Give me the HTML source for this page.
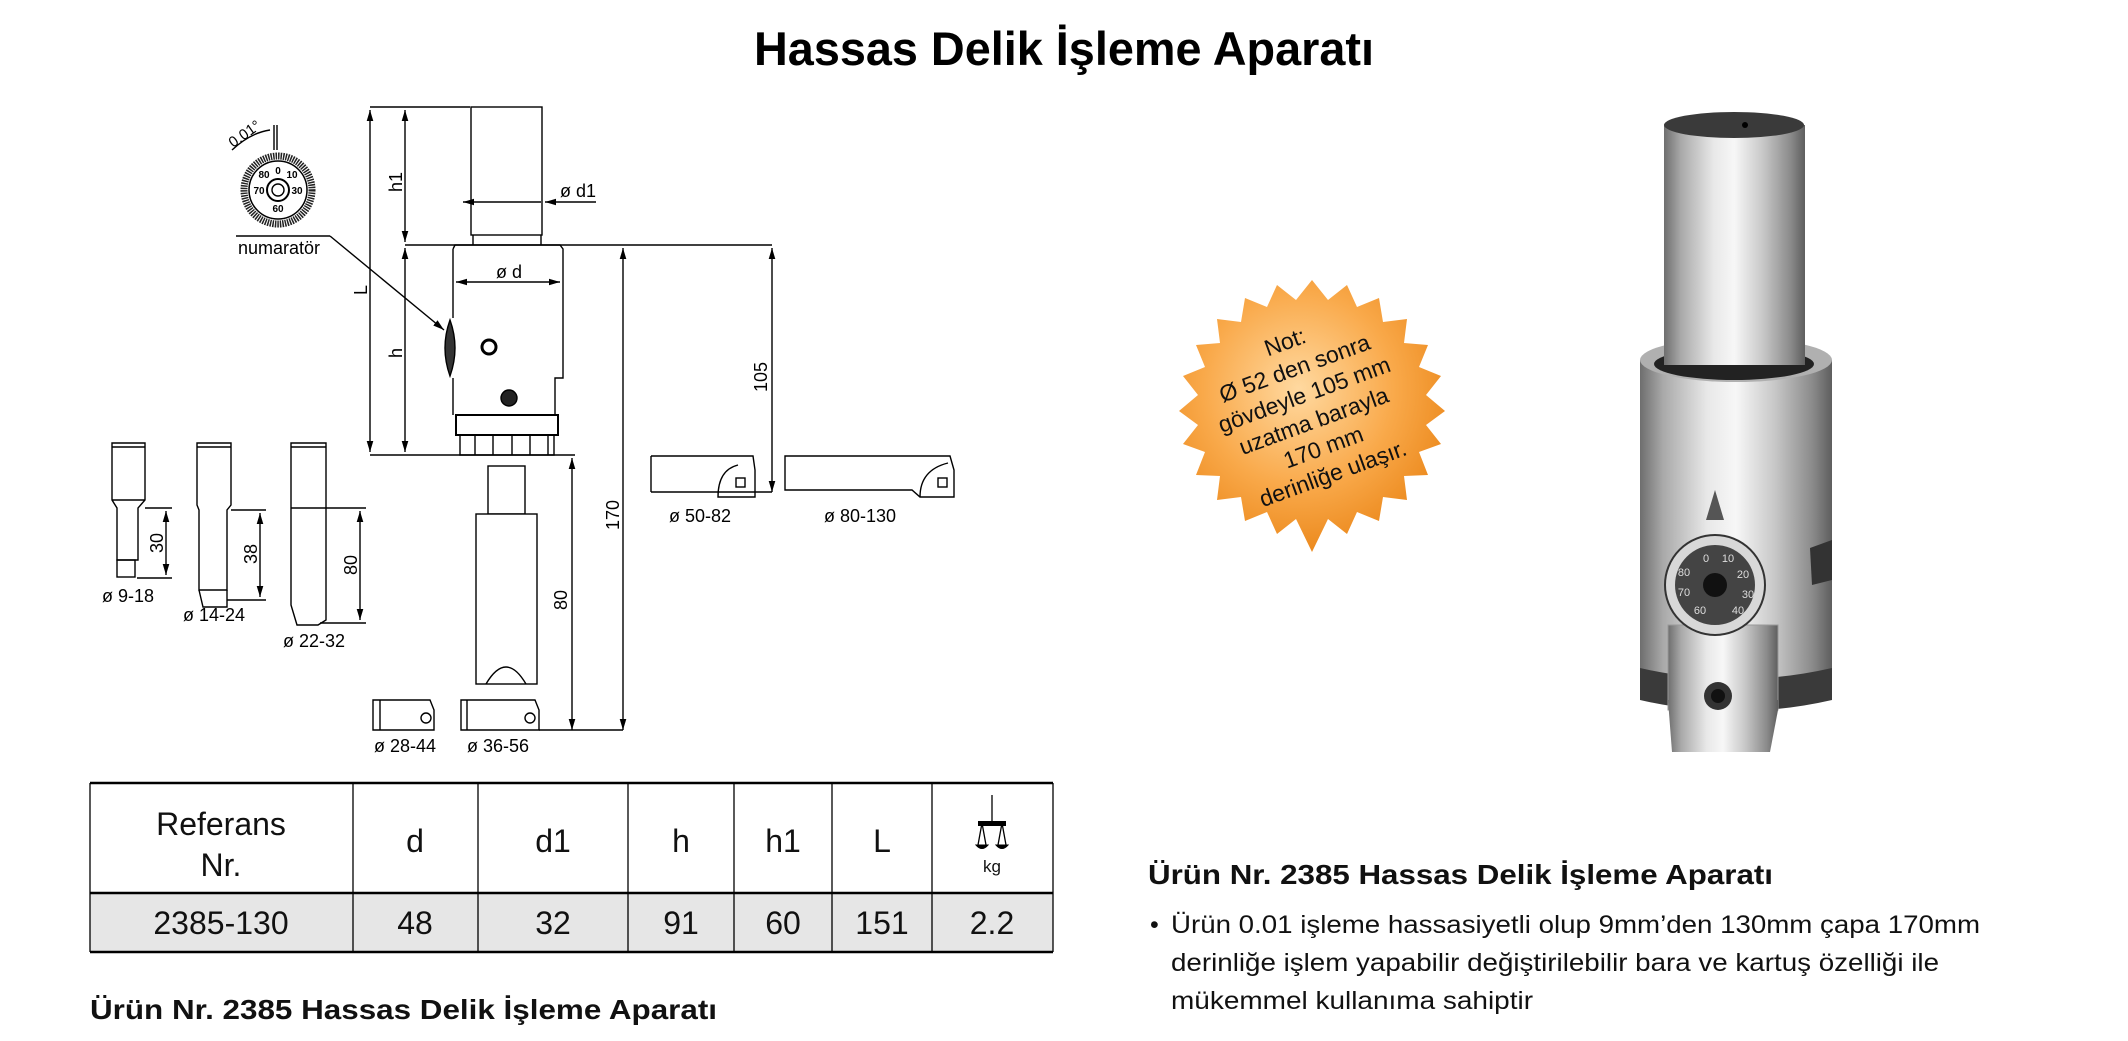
<!DOCTYPE html>
<html><head><meta charset="utf-8"><style>
html,body{margin:0;padding:0;background:#fff;}
svg{display:block;}
text{font-family:"Liberation Sans",sans-serif;}
</style></head><body>
<svg width="2128" height="1041" viewBox="0 0 2128 1041" xmlns="http://www.w3.org/2000/svg">
<defs>
<linearGradient id="cyl" x1="0" x2="1" y1="0" y2="0">
<stop offset="0" stop-color="#6e6e6e"/><stop offset="0.12" stop-color="#a9a9a9"/><stop offset="0.35" stop-color="#e8e8e8"/><stop offset="0.5" stop-color="#f7f7f7"/><stop offset="0.7" stop-color="#c8c8c8"/><stop offset="0.9" stop-color="#8a8a8a"/><stop offset="1" stop-color="#5e5e5e"/>
</linearGradient>
<radialGradient id="star" cx="0.45" cy="0.4" r="0.6">
<stop offset="0" stop-color="#ffd9a0"/><stop offset="0.6" stop-color="#f9a94a"/><stop offset="1" stop-color="#ec8a1e"/>
</radialGradient>
<marker id="ar" viewBox="0 0 10 10" refX="10" refY="5" markerWidth="8" markerHeight="8" orient="auto-start-reverse"><path d="M0,2 L10,5 L0,8 z" fill="#000"/></marker>
</defs>

<text x="754" y="65" font-size="47" font-weight="bold" textLength="620" lengthAdjust="spacingAndGlyphs">Hassas Delik İşleme Aparatı</text>

<g stroke="#000" stroke-width="1.4" fill="none">
<rect x="471" y="107" width="71" height="128" fill="#fff"/>
<path d="M473,235 V245 M541,235 V245"/>
<path d="M453,249 L455,245 L560,245 L563,249 L563,378 L555,378 L555,415 M453,249 L453,318 M453,378 L453,415" fill="#fff"/>
<path d="M450,320 Q440,348 450,376 Q460,348 450,320 z" fill="#333"/>
<circle cx="489" cy="347" r="7" stroke-width="3"/>
<circle cx="509" cy="398" r="8" fill="#222"/>
<rect x="456" y="415" width="102" height="20" fill="#fff" stroke-width="2"/>
<path d="M460,435 V455 H554 V435 M475,435 V455 M493,435 V455 M512,435 V455 M530,435 V455 M548,435 V455"/>
<path d="M370,107 H470 M405,245 H772 M370,455 H575" />
<line x1="370" y1="110" x2="370" y2="452" marker-start="url(#ar)" marker-end="url(#ar)"/>
<line x1="405" y1="110" x2="405" y2="242" marker-start="url(#ar)" marker-end="url(#ar)"/>
<line x1="405" y1="248" x2="405" y2="452" marker-start="url(#ar)" marker-end="url(#ar)"/>
<line x1="456" y1="282" x2="560" y2="282" marker-start="url(#ar)" marker-end="url(#ar)"/>
<line x1="463" y1="202" x2="541" y2="202" marker-start="url(#ar)"/>
<line x1="596" y1="202" x2="545" y2="202" marker-end="url(#ar)"/>
<line x1="772" y1="248" x2="772" y2="492" marker-start="url(#ar)" marker-end="url(#ar)"/>
<path d="M651,492 H772"/>
<line x1="623" y1="248" x2="623" y2="730" marker-start="url(#ar)" marker-end="url(#ar)"/>
<line x1="572" y1="458" x2="572" y2="730" marker-start="url(#ar)" marker-end="url(#ar)"/>
<path d="M539,730 H623"/>
<rect x="488" y="466" width="37" height="48" fill="#fff"/>
<rect x="476" y="514" width="61" height="170" fill="#fff"/>
<path d="M486,684 Q506,650 526,684"/>
<path d="M373,700 H430 L434,710 V730 H373 z M380,700 V730"/>
<circle cx="426" cy="718" r="5"/>
<path d="M461,700 H535 L539,710 V730 H461 z M467,700 V730"/>
<circle cx="530" cy="718" r="5"/>
<path d="M651,456 H753 L755,470 V497 H718 Q718,470 738,465 M651,456 V492"/>
<rect x="736" y="478" width="9" height="9"/>
<path d="M785,456 H950 L954,470 V497 H920 L912,490 H785 z"/>
<path d="M920,497 Q920,470 948,463"/><rect x="938" y="478" width="9" height="9"/>
<path d="M112,443 H145 V500 L138,508 V560 H117 V508 L112,500 z M112,447 H145 M112,500 H145"/>
<rect x="117" y="560" width="18" height="17"/>
<path d="M197,443 H231 V505 L227,510 V590 H199 V510 L197,505 z M197,447 H231"/>
<path d="M199,590 L203,607 H227 V590"/>
<path d="M291,443 H326 V620 L318,625 H297 L291,605 z M291,447 H326 M291,508 H326"/>
<path d="M145,508 H172 M137,578 H172 M231,510 H266 M227,600 H266 M326,508 H366 M320,623 H366"/>
<line x1="166" y1="511" x2="166" y2="575" marker-start="url(#ar)" marker-end="url(#ar)"/>
<line x1="260" y1="513" x2="260" y2="597" marker-start="url(#ar)" marker-end="url(#ar)"/>
<line x1="360" y1="511" x2="360" y2="620" marker-start="url(#ar)" marker-end="url(#ar)"/>
<circle cx="278" cy="190" r="34" stroke-width="7" stroke="#222" stroke-dasharray="1.5 1"/>
<circle cx="278" cy="190" r="29" stroke-width="1.5"/>
<circle cx="278" cy="190" r="11" stroke-width="2"/><circle cx="278" cy="190" r="6"/>
<path d="M236,236 H330"/>
<line x1="330" y1="236" x2="444" y2="330" marker-end="url(#ar)"/>
<path d="M232,150 Q250,133 270,130"/>
<path d="M274,125 V150 M277,125 V150"/>
</g>
<g font-size="10" font-weight="bold" fill="#000" text-anchor="middle">
<text x="278" y="174">0</text><text x="292" y="178">10</text><text x="297" y="194">30</text><text x="259" y="194">70</text><text x="264" y="178">80</text><text x="278" y="212">60</text>
</g>
<text x="233" y="148" font-size="15" transform="rotate(-35 233 148)">0.01°</text>

<g font-size="18" fill="#000">
<text x="238" y="254">numaratör</text>
<text x="560" y="197">ø d1</text>
<text x="496" y="278">ø d</text>
<text x="402" y="182" transform="rotate(-90 402 182)" text-anchor="middle">h1</text>
<text x="367" y="290" transform="rotate(-90 367 290)" text-anchor="middle">L</text>
<text x="402" y="353" transform="rotate(-90 402 353)" text-anchor="middle">h</text>
<text x="767" y="377" transform="rotate(-90 767 377)" text-anchor="middle">105</text>
<text x="619" y="515" transform="rotate(-90 619 515)" text-anchor="middle">170</text>
<text x="567" y="600" transform="rotate(-90 567 600)" text-anchor="middle">80</text>
<text x="163" y="543" transform="rotate(-90 163 543)" text-anchor="middle">30</text>
<text x="257" y="554" transform="rotate(-90 257 554)" text-anchor="middle">38</text>
<text x="357" y="565" transform="rotate(-90 357 565)" text-anchor="middle">80</text>
<text x="102" y="602">ø 9-18</text>
<text x="183" y="621">ø 14-24</text>
<text x="283" y="647">ø 22-32</text>
<text x="374" y="752">ø 28-44</text>
<text x="467" y="752">ø 36-56</text>
<text x="669" y="522">ø 50-82</text>
<text x="824" y="522">ø 80-130</text>
</g>

<rect x="90" y="893" width="963" height="59" fill="#e6e6e6"/>
<g stroke="#000" fill="none">
<path d="M90,783 H1053 M90,893 H1053 M90,952 H1053" stroke-width="2.5"/>
<path d="M90,783 V952 M353,783 V952 M478,783 V952 M628,783 V952 M734,783 V952 M832,783 V952 M932,783 V952 M1053,783 V952" stroke-width="1.3"/>
<path d="M992,795 V823 M982,823 L978,845 M982,823 L986,845 M1002,823 L998,845 M1002,823 L1006,845" stroke-width="1.3"/>
<path d="M976,845 Q982,852 988,845 z M996,845 Q1002,852 1008,845 z" fill="#000"/>
</g>
<path d="M978,821 H1006 V826 H978 z" fill="#000"/>
<g font-size="32" fill="#111" text-anchor="middle">
<text x="221" y="835">Referans</text><text x="221" y="876">Nr.</text>
<text x="415" y="852">d</text><text x="553" y="852">d1</text><text x="681" y="852">h</text><text x="783" y="852">h1</text><text x="882" y="852">L</text>
<text x="992" y="872" font-size="17">kg</text>
<text x="221" y="934">2385-130</text><text x="415" y="934">48</text><text x="553" y="934">32</text><text x="681" y="934">91</text><text x="783" y="934">60</text><text x="882" y="934">151</text><text x="992" y="934">2.2</text>
</g>

<text x="90" y="1019" font-size="28" font-weight="bold" fill="#111" textLength="627" lengthAdjust="spacingAndGlyphs">Ürün Nr. 2385 Hassas Delik İşleme Aparatı</text>
<text x="1148" y="884" font-size="28" font-weight="bold" fill="#111" textLength="625" lengthAdjust="spacingAndGlyphs">Ürün Nr. 2385 Hassas Delik İşleme Aparatı</text>
<g font-size="25" fill="#111">
<text x="1150" y="933">•</text>
<text x="1171" y="933" textLength="809" lengthAdjust="spacingAndGlyphs">Ürün 0.01 işleme hassasiyetli olup  9mm’den 130mm çapa 170mm</text>
<text x="1171" y="971" textLength="768" lengthAdjust="spacingAndGlyphs">derinliğe işlem yapabilir değiştirilebilir bara ve kartuş özelliği ile</text>
<text x="1171" y="1009" textLength="362" lengthAdjust="spacingAndGlyphs">mükemmel kullanıma sahiptir</text>
</g>

<rect x="1640" y="360" width="192" height="340" fill="url(#cyl)"/>
<ellipse cx="1736" cy="360" rx="96" ry="22" fill="#b0b0b0"/>
<ellipse cx="1734" cy="364" rx="80" ry="16" fill="#222"/>
<rect x="1664" y="125" width="141" height="240" fill="url(#cyl)"/>
<ellipse cx="1734" cy="125" rx="70" ry="13" fill="#3a3a3a"/>
<circle cx="1745" cy="125" r="3" fill="#000"/>
<path d="M1640,668 Q1736,690 1832,668 V700 Q1736,722 1640,700 z" fill="#3a3a3a"/>
<rect x="1668" y="625" width="110" height="85" fill="url(#cyl)" stroke="#999"/>
<path d="M1668,700 L1672,752 H1770 L1778,710 V700 z" fill="url(#cyl)"/>
<circle cx="1718" cy="696" r="14" fill="#333"/><circle cx="1718" cy="696" r="7" fill="#111"/>
<path d="M1706,520 L1715,490 L1724,520 z" fill="#555"/>
<circle cx="1715" cy="585" r="50" fill="#d8d8d8" stroke="#333" stroke-width="2"/>
<circle cx="1715" cy="585" r="40" fill="#444"/>
<circle cx="1715" cy="585" r="12" fill="#111"/>
<g font-size="11" fill="#ddd" text-anchor="middle">
<text x="1706" y="562">0</text><text x="1728" y="562">10</text><text x="1743" y="578">20</text><text x="1748" y="598">30</text><text x="1738" y="614">40</text><text x="1700" y="614">60</text><text x="1684" y="596">70</text><text x="1684" y="576">80</text>
</g>
<path d="M1810,548 L1832,540 V580 L1812,585 z" fill="#333"/>

<polygon fill="url(#star)" points="1312,280 1328,300 1347,285 1357,307 1379,298 1383,322 1407,319 1404,343 1428,345 1419,367 1441,376 1426,395 1445,411 1426,425 1441,444 1419,452 1428,475 1404,476 1407,500 1383,497 1379,521 1357,512 1347,534 1328,519 1312,552 1296,519 1277,534 1267,512 1245,521 1241,497 1217,500 1220,476 1196,475 1205,452 1183,444 1198,425 1179,411 1198,395 1183,376 1205,367 1196,345 1220,343 1217,319 1241,322 1245,298 1267,307 1277,285 1296,300"/>
<g transform="rotate(-20 1312 416)" font-size="23" fill="#111" text-anchor="middle">
<text x="1312" y="345">Not:</text>
<text x="1312" y="373">Ø 52 den sonra</text>
<text x="1312" y="401">gövdeyle 105 mm</text>
<text x="1312" y="429">uzatma barayla</text>
<text x="1312" y="457">170 mm</text>
<text x="1312" y="485">derinliğe ulaşır.</text>
</g>
</svg>
</body></html>
